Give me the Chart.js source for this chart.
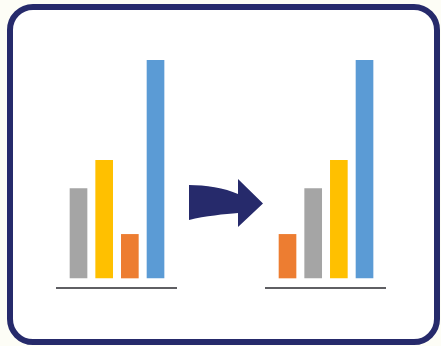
<!DOCTYPE html>
<html>
<head>
<meta charset="utf-8">
<script src="https://cdn.jsdelivr.net/npm/chart.js@4"></script>
<style>
  body { margin: 0; width: 441px; height: 346px; background: #fdfdf6; position: relative; overflow: hidden; }
  .frame {
    position: absolute; left: 7px; top: 4px; width: 421px; height: 329px;
    border: 6px solid #262a6b; border-radius: 26px; background: #ffffff;
  }
  .box { position: absolute; top: 50px; width: 121px; height: 242px; }
  #left { left: 56px; }
  #right { left: 265px; }
  svg { position: absolute; left: 0; top: 0; }
</style>
</head>
<body>
<div class="frame"></div>
<div class="box" id="left"><canvas id="chartLeft"></canvas></div>
<div class="box" id="right"><canvas id="chartRight"></canvas></div>
<svg width="441" height="346">
  <path d="M189,185 C205,185 225,188 238,194 L238,179 L263,203.5 L238,227 L238,213 C225,214 205,216 189,220 Z" fill="#262a6b"/>
</svg>
<script>
// before sorting
const leftLabels = ['Gray', 'Yellow', 'Orange', 'Blue'];
const leftValues = [41, 54, 20, 100];
const leftColors = ['#a5a5a5', '#ffc000', '#ed7d31', '#5b9bd5'];

// after sorting
const rightLabels = ['Orange', 'Gray', 'Yellow', 'Blue'];
const rightValues = [20, 41, 54, 100];
const rightColors = ['#ed7d31', '#a5a5a5', '#ffc000', '#5b9bd5'];

const positions = [0, 1, 2, 3];

function makeChart(id, labels, values, colors) {
    let points = [];
    for (let i = 0; i < values.length; i++) {
        points.push({x: positions[i], y: values[i], name: labels[i]});
    }
    const ctx = document.getElementById(id).getContext('2d');
    return new Chart(ctx, {
        type: 'bar',
        data: {
            datasets: [{
                data: points,
                backgroundColor: colors,
                barThickness: 17,
                borderWidth: 0
            }]
        },
        options: {
            responsive: true,
            maintainAspectRatio: false,
            animation: false,
            events: [],
            layout: { padding: { top: 10, bottom: 4, left: 0, right: 0 } },
            plugins: { legend: { display: false }, tooltip: { enabled: false } },
            scales: {
                x: {
                    type: 'linear',
                    offset: false,
                    min: -0.877,
                    max: 3.837,
                    grid: { display: false, drawTicks: false },
                    ticks: { display: false },
                    border: { display: true, color: '#5f5f63', width: 2 }
                },
                y: {
                    display: false,
                    min: -4.59,
                    max: 100
                }
            }
        }
    });
}

makeChart('chartLeft', leftLabels, leftValues, leftColors);
makeChart('chartRight', rightLabels, rightValues, rightColors);
</script>
</body>
</html>
